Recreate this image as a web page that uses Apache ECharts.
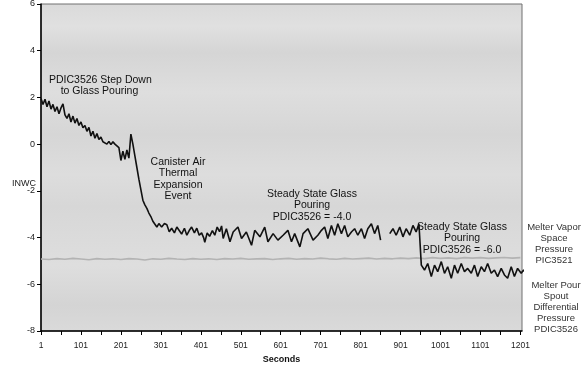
<!DOCTYPE html>
<html>
<head>
<meta charset="utf-8">
<script src="https://cdn.jsdelivr.net/npm/echarts@6/dist/echarts.min.js"></script>
<style>html,body{margin:0;padding:0;background:#fff}#c{width:584px;height:366px}</style>
</head>
<body>
<div id="c"></div>
<script>
// Melter Pour Spout Differential Pressure PDIC3526 (seconds, INWC)
var pdicSec = [1,6,11,16,21,26,31,36,41,46,51,56,61,66,71,76,81,86,91,96,101,106,111,116,121,126,131,136,141,146,151,156,161,166,171,176,181,186,191,196,201,206,211,216,221,226,231,236,241,246,251,256,261,266,271,276,281,286,291,296,
303,310,316,322,328,335,341,347,353,360,366,372,378,385,391,397,403,408,411,417,423,430,436,442,448,453,
457,465,474,482,494,503,515,528,536,549,561,569,582,594,607,619,628,636,649,657,669,682,694,703,711,719,728,736,744,753,761,769,778,786,794,803,811,819,828,836,844,851,860,
874,882,890,899,907,915,924,932,940,947,953,
961,969,978,986,994,1003,1011,1019,1028,1036,1044,1053,1061,1069,1078,1086,1094,1103,1111,1119,1128,1136,1144,1153,1161,1169,1178,1186,1194,1203,1209,1216];
var pdicVal = [1.95,1.7,1.92,1.6,1.85,1.5,1.7,1.4,1.6,1.3,1.55,1.72,1.25,1.1,1.3,0.95,1.2,0.9,1.1,0.8,0.95,0.7,0.8,0.55,0.72,0.35,0.55,0.25,0.45,0.2,0.3,0.1,0.18,0.0,0.12,-0.02,0.1,0.0,0.08,-0.15,-0.7,-0.3,-0.65,-0.25,-0.6,0.43,0.0,-0.5,-1.0,-1.5,-1.95,-2.4,-2.6,-2.75,-2.95,-3.1,-3.3,-3.35,-3.55,-3.4,
-3.55,-3.4,-3.45,-3.75,-3.6,-3.8,-3.55,-3.7,-3.85,-3.6,-3.9,-3.7,-3.55,-3.8,-3.6,-3.9,-3.8,-4.0,-4.2,-3.8,-3.95,-3.7,-3.9,-3.55,-3.75,-3.5,
-4.04,-3.62,-4.18,-3.76,-3.55,-4.04,-3.76,-4.33,-3.69,-3.97,-3.55,-4.18,-3.83,-4.11,-3.9,-3.69,-4.18,-3.83,-4.4,-3.83,-3.62,-4.11,-3.9,-3.69,-3.55,-4.04,-3.48,-3.9,-3.41,-3.83,-3.48,-3.97,-3.76,-3.62,-3.9,-3.62,-4.04,-3.62,-3.41,-3.83,-3.48,-4.11,null,
-3.83,-3.62,-3.9,-3.55,-3.97,-3.62,-3.9,-3.48,-3.76,-3.41,-5.18,
-5.39,-5.11,-5.67,-5.18,-5.46,-5.03,-5.53,-5.25,-5.74,-5.18,-5.53,-5.11,-5.46,-5.32,-5.53,-5.18,-5.67,-5.25,-5.46,-5.11,-5.53,-5.39,-5.67,-5.32,-5.6,-5.74,-5.25,-5.67,-5.32,-5.53,-5.39,-5.55];

// Melter Vapor Space Pressure PIC3521
var picSec = [1,21,41,61,81,101,121,141,161,181,201,221,241,261,281,301,321,341,361,381,401,421,441,461,481,501,521,541,561,581,601,621,641,661,681,701,721,741,761,781,801,821,841,861,881,901,921,941,961,981,1001,1021,1041,1061,1081,1101,1121,1141,1161,1181,1201];
var picVal = [-4.92,-4.94,-4.9,-4.93,-4.89,-4.92,-4.95,-4.9,-4.93,-4.91,-4.94,-4.9,-4.92,-4.96,-4.91,-4.93,-4.89,-4.92,-4.94,-4.9,-4.93,-4.91,-4.94,-4.9,-4.92,-4.89,-4.93,-4.91,-4.9,-4.94,-4.91,-4.89,-4.93,-4.9,-4.92,-4.88,-4.91,-4.93,-4.89,-4.92,-4.9,-4.88,-4.92,-4.89,-4.91,-4.88,-4.9,-4.87,-4.9,-4.86,-4.89,-4.87,-4.9,-4.86,-4.88,-4.86,-4.89,-4.87,-4.85,-4.88,-4.86];

var xTickVals = [1,51,101,151,201,251,301,351,401,451,501,551,601,651,701,751,801,851,901,951,1001,1051,1101,1151,1201];
var xLabelVals = [1,101,201,301,401,501,601,701,801,901,1001,1101,1201];

var pdicData = pdicSec.map(function(s,i){ return [s, pdicVal[i] == null ? '-' : pdicVal[i]]; });
var picData = picSec.map(function(s,i){ return [s, picVal[i]]; });

var FONT = '"Liberation Sans", Arial, sans-serif';
var chart = echarts.init(document.getElementById('c'), null, {renderer:'canvas'});
var annStyle = {fontFamily: FONT, fontSize: 10.5, fill: '#111', align: 'center', lineHeight: 11.5};
var rightStyle = {fontFamily: FONT, fontSize: 9.5, fill: '#333', align: 'center', lineHeight: 11};
chart.setOption({
  animation: false,
  backgroundColor: '#ffffff',
  grid: {
    left: 41, right: 62, top: 4, bottom: 35, show: true,
    containLabel: false, outerBoundsMode: 'none',
    borderColor: '#707070', borderWidth: 1,
    backgroundColor: new echarts.graphic.LinearGradient(0,0,0,1,[
      {offset:0, color:'#dadada'},{offset:0.07, color:'#e0e0e0'},{offset:0.15, color:'#d5d5d5'},
      {offset:0.27, color:'#dedede'},{offset:0.4, color:'#d6d6d6'},{offset:0.52, color:'#dddddd'},
      {offset:0.62, color:'#d7d7d7'},{offset:0.8, color:'#dedede'},{offset:0.92, color:'#d4d4d4'},{offset:1, color:'#dadada'}])
  },
  xAxis: {
    type: 'value', min: 1, max: 1205,
    name: 'Seconds', nameLocation: 'middle', nameGap: 24,
    nameTextStyle: {fontFamily: FONT, fontSize: 9, fontWeight: 'bold', color: '#111'},
    axisLine: {onZero: false, lineStyle: {color: '#000', width: 1.5}},
    axisTick: {customValues: xTickVals, length: 4, lineStyle: {color: '#000'}},
    axisLabel: {customValues: xLabelVals, formatter: function(v){ return String(v); }, fontFamily: FONT, fontSize: 8.5, color: '#222', margin: 10},
    splitLine: {show: false}
  },
  yAxis: {
    type: 'value', min: -8, max: 6, interval: 2,
    axisLine: {show: true, onZero: false, lineStyle: {color: '#000', width: 1.5}},
    axisTick: {show: true, length: 4, lineStyle: {color: '#000'}},
    axisLabel: {fontFamily: FONT, fontSize: 9, color: '#222', margin: 6},
    splitLine: {show: false}
  },
  series: [
    {type: 'line', data: picData, showSymbol: false, lineStyle: {color: '#b3b3b3', width: 1.6}, z: 2},
    {type: 'line', data: pdicData, showSymbol: false, clip: false, connectNulls: false,
     lineStyle: {color: '#111', width: 1.6}, z: 3}
  ],
  graphic: [
    {type: 'text', left: 12, top: 179, style: {text: 'INWC', fontFamily: FONT, fontSize: 9, fill: '#222'}},
    {type: 'text', x: 49, y: 74, style: {text: 'PDIC3526 Step Down\n    to Glass Pouring', fontFamily: FONT, fontSize: 10.5, fill: '#111', lineHeight: 11.5}},
    {type: 'text', x: 178, y: 156, style: Object.assign({}, annStyle, {text: 'Canister Air\nThermal\nExpansion\nEvent'})},
    {type: 'text', x: 312, y: 188, style: Object.assign({}, annStyle, {text: 'Steady State Glass\nPouring\nPDIC3526 = -4.0'})},
    {type: 'text', x: 462, y: 221, style: Object.assign({}, annStyle, {text: 'Steady State Glass\nPouring\nPDIC3526 = -6.0'})},
    {type: 'text', x: 554, y: 222, style: Object.assign({}, rightStyle, {text: 'Melter Vapor\nSpace\nPressure\nPIC3521'})},
    {type: 'text', x: 556, y: 280, style: Object.assign({}, rightStyle, {text: 'Melter Pour\nSpout\nDifferential\nPressure\nPDIC3526'})}
  ]
});
</script>
</body>
</html>
